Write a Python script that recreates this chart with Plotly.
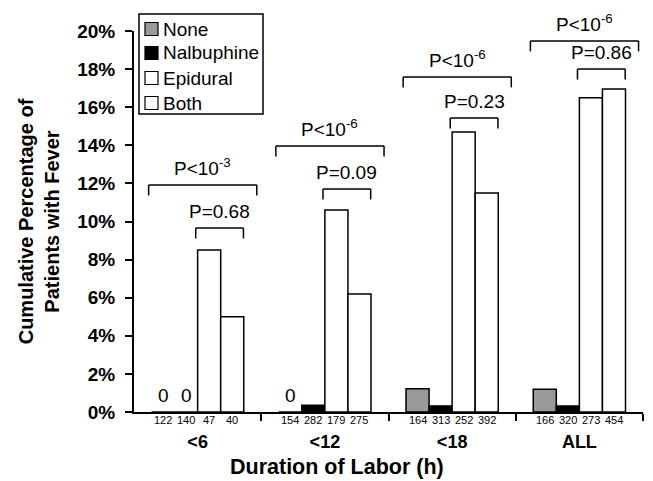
import plotly.graph_objects as go

groups = ["<6", "<12", "<18", "ALL"]
series = ["None", "Nalbuphine", "Epidural", "Both"]
values = {
    "None":       [0.0, 0.0, 1.22, 1.20],
    "Nalbuphine": [0.0, 0.35, 0.32, 0.31],
    "Epidural":   [8.51, 10.6, 14.7, 16.5],
    "Both":       [5.0, 6.2, 11.5, 16.96],
}
counts = {
    "None":       [122, 154, 164, 166],
    "Nalbuphine": [140, 282, 313, 320],
    "Epidural":   [47, 179, 252, 273],
    "Both":       [40, 275, 392, 454],
}
zero_labels = [("None", 0), ("Nalbuphine", 0), ("None", 1)]
p_big = ["P<10<sup>-3</sup>", "P<10<sup>-6</sup>", "P<10<sup>-6</sup>", "P<10<sup>-6</sup>"]
p_small = ["P=0.68", "P=0.09", "P=0.23", "P=0.86"]

colors = {"None": "#999999", "Nalbuphine": "#000000", "Epidural": "#ffffff", "Both": "#ffffff"}
FONT = "Liberation Sans, Arial, sans-serif"

# page body has an 8px margin: lay out in reference pixels shifted by OFF
OFF = 8
W_PX, H_PX = 653, 481
L, R, T, B = 134 - OFF, 18, 31 - OFF, 77
PW, PH = W_PX - L - R, H_PX - T - B

def px(x):
    return (x - OFF - L) / PW

def py(y):
    return (H_PX - B - (y - OFF)) / PH

BARGAP = 0.275
W = (1 - BARGAP) / 4

fig = go.Figure()
xs = list(range(len(groups)))
for s in series:
    fig.add_trace(go.Bar(
        x=xs, y=values[s], name=s, showlegend=False,
        marker=dict(color=colors[s], line=dict(color="black", width=1.5)),
    ))

def off(i):
    return (i - 1.5) * W

ann = []
shapes = []
# counts under bars
for si, s in enumerate(series):
    for g in xs:
        ann.append(dict(x=g + off(si), y=0, xref="x", yref="y", text=str(counts[s][g]),
                        showarrow=False, yanchor="top", yshift=0,
                        font=dict(size=11, family=FONT, color="black")))
# zero labels
for s, g in zero_labels:
    si = series.index(s)
    ann.append(dict(x=g + off(si), y=0, xref="x", yref="y", text="0", showarrow=False,
                    yanchor="bottom", yshift=4, font=dict(size=19, family=FONT, color="black")))

# significance brackets (levels in %)
big_y = [11.92, 13.96, 17.59, 19.48]
small_y = [9.66, 11.71, 15.43, 18.0]
leg = 0.55
BIG = (-0.385, 0.465)
SMALL = (-0.015, 0.36)
for g in xs:
    for (a, b), yy, txt in [(BIG, big_y[g], p_big[g]), (SMALL, small_y[g], p_small[g])]:
        xa, xb = g + a, g + b
        for (x0, y0, x1, y1) in [(xa, yy, xb, yy), (xa, yy, xa, yy - leg), (xb, yy, xb, yy - leg)]:
            shapes.append(dict(type="line", xref="x", yref="y", x0=x0, x1=x1, y0=y0, y1=y1,
                               line=dict(color="black", width=1.5), layer="above"))
        ann.append(dict(x=(xa + xb) / 2, y=yy, xref="x", yref="y", text=txt,
                        showarrow=False, yanchor="bottom", yshift=4,
                        font=dict(size=19, family=FONT, color="black")))

# legend (drawn box)
shapes.append(dict(type="rect", xref="paper", yref="paper", x0=px(139), x1=px(263),
                   y0=py(114), y1=py(14), line=dict(color="black", width=1.5),
                   fillcolor="white", layer="above"))
rows = [29, 53, 78, 103]
for s, yc in zip(series, rows):
    shapes.append(dict(type="rect", xref="paper", yref="paper", x0=px(145), x1=px(158),
                       y0=py(yc + 6.5), y1=py(yc - 6.5), line=dict(color="black", width=1.2),
                       fillcolor=colors[s], layer="above"))
    ann.append(dict(x=px(161), y=py(yc), xref="paper", yref="paper", text=s, showarrow=False,
                    xanchor="left", yanchor="middle",
                    font=dict(size=19, family=FONT, color="black")))

# x-axis title
ann.append(dict(x=px(337), y=py(467), xref="paper", yref="paper", text="<b>Duration of Labor (h)</b>",
                showarrow=False, xanchor="center", yanchor="middle",
                font=dict(size=21.5, family=FONT, color="black")))

fig.update_layout(
    width=W_PX, height=H_PX,
    margin=dict(l=L, r=R, t=T, b=B),
    paper_bgcolor="white", plot_bgcolor="white",
    barmode="group", bargap=BARGAP, bargroupgap=0,
    font=dict(family=FONT, color="black"),
    showlegend=False,
    xaxis=dict(range=[-0.5, 3.5], tickvals=xs, ticktext=groups, ticks="", showgrid=False,
               zeroline=False, showline=True, linecolor="black", linewidth=2,
               tickfont=dict(size=18, family=FONT, color="black", weight="bold"),
               ticklabelstandoff=12,
               minor=dict(tickvals=[0.5, 1.5, 2.5, 3.5], ticks="outside", ticklen=7,
                          tickwidth=2, tickcolor="black")),
    yaxis=dict(range=[0, 20], dtick=2, ticksuffix="%", ticks="outside", ticklen=7,
               tickwidth=2, tickcolor="black", showgrid=False, zeroline=False,
               showline=True, linecolor="black", linewidth=2,
               ticklabelstandoff=6,
               tickfont=dict(size=19, family=FONT, color="black", weight="bold"),
               title=dict(text="Cumulative Percentage of<br>Patients with Fever", standoff=12,
                          font=dict(size=20, family=FONT, color="black", weight="bold"))),
    annotations=ann, shapes=shapes,
)
fig.update_traces(cliponaxis=False)

fig.write_html("out.html")
